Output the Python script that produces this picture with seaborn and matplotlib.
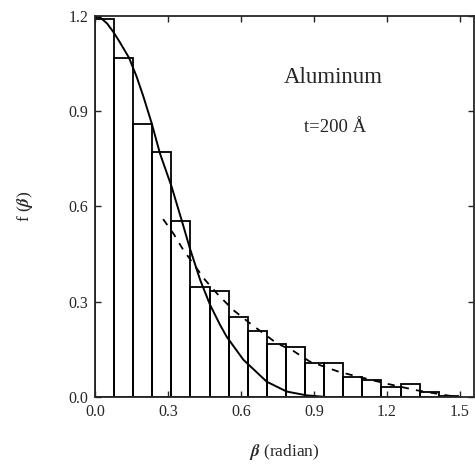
import numpy as np
import pandas as pd
import seaborn as sns
import matplotlib
matplotlib.use('Agg')
import matplotlib.pyplot as plt

# --- data ---
bin_width = 0.0785
bar_heights = [1.19, 1.068, 0.86, 0.772, 0.555, 0.345, 0.335, 0.253, 0.209, 0.167,
               0.158, 0.106, 0.106, 0.062, 0.054, 0.032, 0.041, 0.017, 0.004]

solid_beta = [0.0, 0.025, 0.05, 0.075, 0.1, 0.14, 0.171, 0.199, 0.233, 0.267, 0.315,
              0.356, 0.39, 0.432, 0.473, 0.514, 0.541, 0.61, 0.706, 0.788, 0.87, 0.95]
solid_f = [1.198, 1.193, 1.176, 1.15, 1.12, 1.068, 1.009, 0.946, 0.862, 0.767, 0.662,
           0.557, 0.468, 0.369, 0.29, 0.227, 0.19, 0.117, 0.048, 0.017, 0.005, 0.0]

dash_beta = [0.28, 0.322, 0.363, 0.452, 0.507, 0.568, 0.637, 0.747, 0.815, 0.884,
             1.0, 1.055, 1.192, 1.315, 1.438, 1.49]
dash_f = [0.56, 0.515, 0.463, 0.369, 0.321, 0.274, 0.232, 0.169, 0.145, 0.111,
          0.08, 0.069, 0.043, 0.022, 0.006, 0.0]

x_ticks = [0.0, 0.3, 0.6, 0.9, 1.2, 1.5]
y_ticks = [0.0, 0.3, 0.6, 0.9, 1.2]

# --- style ---
sns.set_style('ticks')
plt.rcParams['font.family'] = ['Liberation Serif', 'DejaVu Serif']
plt.rcParams['mathtext.fontset'] = 'stix'

n_bins = len(bar_heights)
centers = (np.arange(n_bins) + 0.5) * bin_width
hist_df = pd.DataFrame({'beta': centers, 'f': bar_heights})

fig = plt.figure(figsize=(4.75, 4.67), dpi=100)
ax = fig.add_axes([0.2, 0.15, 0.798, 0.8158])

sns.histplot(data=hist_df, x='beta', weights='f', binwidth=bin_width,
             binrange=(0, n_bins * bin_width), fill=False,
             color='black', linewidth=1.3, ax=ax)
sns.lineplot(x=solid_beta, y=solid_f, color='black', linewidth=1.4, sort=False, ax=ax)
sns.lineplot(x=dash_beta, y=dash_f, color='black', linewidth=1.3, sort=False,
             linestyle=(0, (4, 4)), ax=ax)

ax.set_xlim(0, 1.558)
ax.set_ylim(0, 1.2)
ax.set_xticks(x_ticks)
ax.set_yticks(y_ticks)
ax.set_xticklabels([f'{v:.1f}' for v in x_ticks])
ax.set_yticklabels([f'{v:.1f}' for v in y_ticks])
ax.tick_params(direction='in', length=4, width=1, top=True, right=True,
               labelsize=11.5, pad=5)
for s in ax.spines.values():
    s.set_linewidth(1.3)
    s.set_visible(True)

ax.set_xlabel(r'$\boldsymbol{\beta}$ (radian)', fontsize=12.5, labelpad=16)
ax.set_ylabel(r'f ($\boldsymbol{\beta}$)', fontsize=12.5, labelpad=24)

ax.text(0.98, 1.005, 'Aluminum', fontsize=16.5, ha='center', va='center')
ax.text(0.985, 0.85, 't=200 Å', fontsize=13.5, ha='center', va='center')

fig.savefig('out.png', dpi=100)
